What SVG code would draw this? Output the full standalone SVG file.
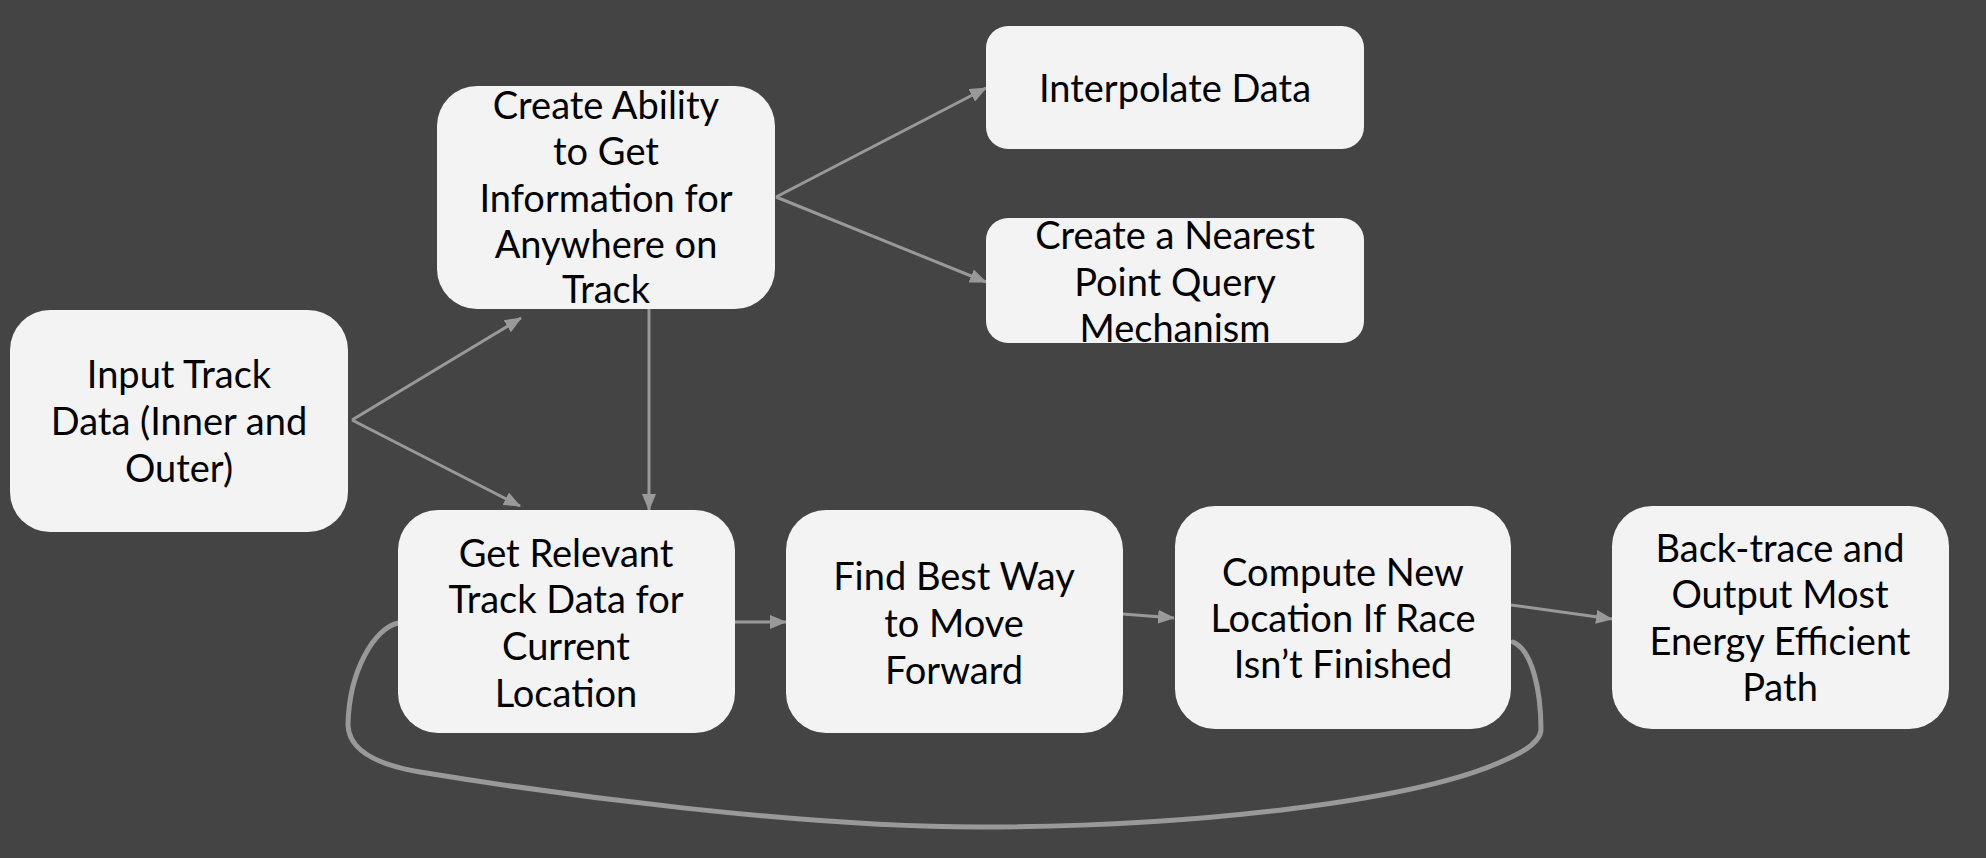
<svg xmlns="http://www.w3.org/2000/svg" width="1986" height="858" viewBox="0 0 1986 858">
<style>
.box{fill:#f3f3f3;}
.t{font-family:Lato,"Liberation Sans",sans-serif;font-size:38px;fill:#000;text-anchor:middle;}
.c{stroke:#999;stroke-width:3;fill:none;}
.loop{stroke:#999;stroke-width:5;fill:none;stroke-linecap:round;stroke-linejoin:round;}
</style>
<defs>
<marker id="ah" markerUnits="userSpaceOnUse" markerWidth="17" markerHeight="14" refX="16" refY="7" orient="auto">
<path d="M0,0 L17,7 L0,14 z" fill="#999"/>
</marker>
<clipPath id="clipNear"><rect x="986" y="218" width="378" height="125" rx="22"/></clipPath>
</defs>
<rect width="1986" height="858" fill="#444"/>
<g id="connectors">
<line class="c" x1="352" y1="420" x2="521" y2="318" marker-end="url(#ah)"/>
<line class="c" x1="352" y1="420" x2="520" y2="506" marker-end="url(#ah)"/>
<line class="c" x1="649" y1="309" x2="649" y2="510" marker-end="url(#ah)"/>
<line class="c" x1="776" y1="197" x2="986" y2="88" marker-end="url(#ah)"/>
<line class="c" x1="776" y1="197" x2="986" y2="282" marker-end="url(#ah)"/>
<line class="c" x1="735" y1="622" x2="786" y2="622" marker-end="url(#ah)"/>
<line class="c" x1="1123" y1="614" x2="1174" y2="618" marker-end="url(#ah)"/>
<line class="c" x1="1511" y1="605" x2="1612" y2="619" marker-end="url(#ah)"/>
<path class="loop" d="M398,623 C375,628 349,670 348,725 Q349,760 420,772 C560,795 800,827 980,827 C1200,827 1420,800 1505,760 Q1540,745 1541,730 C1541,690 1532,650 1513,642"/>
</g>
<g id="n-input">
<rect class="box" x="10" y="310" width="338" height="222" rx="40"/>
<text class="t" x="179" y="388">Input Track</text>
<text class="t" x="179" y="435">Data (Inner and</text>
<text class="t" x="179" y="482">Outer)</text>
</g>
<g id="n-create">
<rect class="box" x="437" y="86" width="338" height="223" rx="40"/>
<text class="t" x="606" y="119">Create Ability</text>
<text class="t" x="606" y="165">to Get</text>
<text class="t" x="606" y="212">Information for</text>
<text class="t" x="606" y="258">Anywhere on</text>
<text class="t" x="606" y="303">Track</text>
</g>
<g id="n-interp">
<rect class="box" x="986" y="26" width="378" height="123" rx="22"/>
<text class="t" x="1175" y="102">Interpolate Data</text>
</g>
<g id="n-nearest">
<rect class="box" x="986" y="218" width="378" height="125" rx="22"/>
<g clip-path="url(#clipNear)">
<text class="t" x="1175" y="249">Create a Nearest</text>
<text class="t" x="1175" y="296">Point Query</text>
<text class="t" x="1175" y="342">Mechanism</text>
</g>
</g>
<g id="n-get">
<rect class="box" x="398" y="510" width="337" height="223" rx="40"/>
<text class="t" x="566" y="567">Get Relevant</text>
<text class="t" x="566" y="613">Track Data for</text>
<text class="t" x="566" y="660">Current</text>
<text class="t" x="566" y="707">Location</text>
</g>
<g id="n-find">
<rect class="box" x="786" y="510" width="337" height="223" rx="40"/>
<text class="t" x="954" y="590">Find Best Way</text>
<text class="t" x="954" y="637">to Move</text>
<text class="t" x="954" y="684">Forward</text>
</g>
<g id="n-compute">
<rect class="box" x="1175" y="506" width="336" height="223" rx="40"/>
<text class="t" x="1343" y="586">Compute New</text>
<text class="t" x="1343" y="632">Location If Race</text>
<text class="t" x="1343" y="678">Isn’t Finished</text>
</g>
<g id="n-back">
<rect class="box" x="1612" y="506" width="337" height="223" rx="40"/>
<text class="t" x="1780" y="562">Back-trace and</text>
<text class="t" x="1780" y="608">Output Most</text>
<text class="t" x="1780" y="655">Energy Efficient</text>
<text class="t" x="1780" y="701">Path</text>
</g>
</svg>
